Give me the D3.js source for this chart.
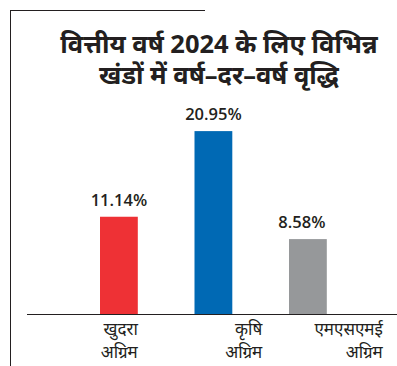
<!DOCTYPE html>
<html>
<head>
<meta charset="utf-8">
<script src="https://cdn.jsdelivr.net/npm/d3@7"></script>
<style>
  html, body { margin: 0; padding: 0; background: #fff; }
  svg { display: block; }
</style>
</head>
<body>
<div id="chart"></div>
<script>
(function() {
  const width = 397, height = 366;

  // Data
  const titleLines = ["वित्तीय वर्ष 2024 के लिए विभिन्न", "खंडों में वर्ष–दर–वर्ष वृद्धि"];
  const categories = ["retail", "agri", "msme"];
  const categoryLabels = [["खुदरा", "अग्रिम"], ["कृषि", "अग्रिम"], ["एमएसएमई", "अग्रिम"]];
  const growth = [11.14, 20.95, 8.58];
  const barColors = ["#ee3135", "#0069b4", "#96989a"];

  // label right edge shift from bar right edge (layout only)
  const labelShift = [0, 30, 56];

  const svg = d3.select("#chart").append("svg")
    .attr("width", width)
    .attr("height", height);

  const ink = "#231f20";

  // frame
  svg.append("line")
    .attr("x1", 10).attr("x2", 205).attr("y1", 10.5).attr("y2", 10.5)
    .attr("stroke", ink).attr("stroke-width", 1);
  svg.append("line")
    .attr("x1", 10.5).attr("x2", 10.5).attr("y1", 10).attr("y2", height)
    .attr("stroke", ink).attr("stroke-width", 1);

  // Title
  svg.append("g").selectAll("text")
    .data(titleLines)
    .join("text")
    .attr("x", 219)
    .attr("y", (d, i) => 53 + i * 31)
    .attr("text-anchor", "middle")
    .attr("font-family", "'Noto Sans', sans-serif")
    .attr("font-weight", "bold")
    .attr("font-size", 25.5)
    .attr("fill", ink)
    .text(d => d);

  const x = d3.scaleBand()
    .domain(categories)
    .range([43.3, 383.5])
    .paddingInner(0.6)
    .paddingOuter(0.6);

  const baseY = 314;
  const y = d3.scaleLinear()
    .domain([0, 25])
    .range([baseY, baseY - 25 * 8.73]);

  // bars
  svg.append("g").selectAll("rect")
    .data(growth)
    .join("rect")
    .attr("x", (d, i) => x(categories[i]))
    .attr("y", d => y(d))
    .attr("width", x.bandwidth())
    .attr("height", d => y(0) - y(d))
    .attr("fill", (d, i) => barColors[i]);

  // baseline
  svg.append("line")
    .attr("x1", 27).attr("x2", width)
    .attr("y1", y(0) + 0.5).attr("y2", y(0) + 0.5)
    .attr("stroke", ink).attr("stroke-width", 1);

  // value labels
  svg.append("g").selectAll("text")
    .data(growth)
    .join("text")
    .attr("x", (d, i) => x(categories[i]) + x.bandwidth() / 2 - (i === 2 ? 6 : 0))
    .attr("y", d => y(d) - 11)
    .attr("text-anchor", "middle")
    .attr("font-family", "'Open Sans', sans-serif")
    .attr("font-weight", 600)
    .attr("font-size", 16.5)
    .attr("fill", ink)
    .text(d => d.toFixed(2) + "%");

  // category labels
  const catG = svg.append("g").selectAll("text")
    .data(categoryLabels)
    .join("text")
    .attr("text-anchor", "end")
    .attr("font-family", "'Noto Sans', sans-serif")
    .attr("font-size", 17)
    .attr("fill", ink);

  catG.selectAll("tspan")
    .data((d, i) => d.map(t => ({ t, i })))
    .join("tspan")
    .attr("x", d => x(categories[d.i]) + x.bandwidth() + labelShift[d.i])
    .attr("y", (d, j) => 335 + j * 23)
    .text(d => d.t);
})();
</script>
</body>
</html>
